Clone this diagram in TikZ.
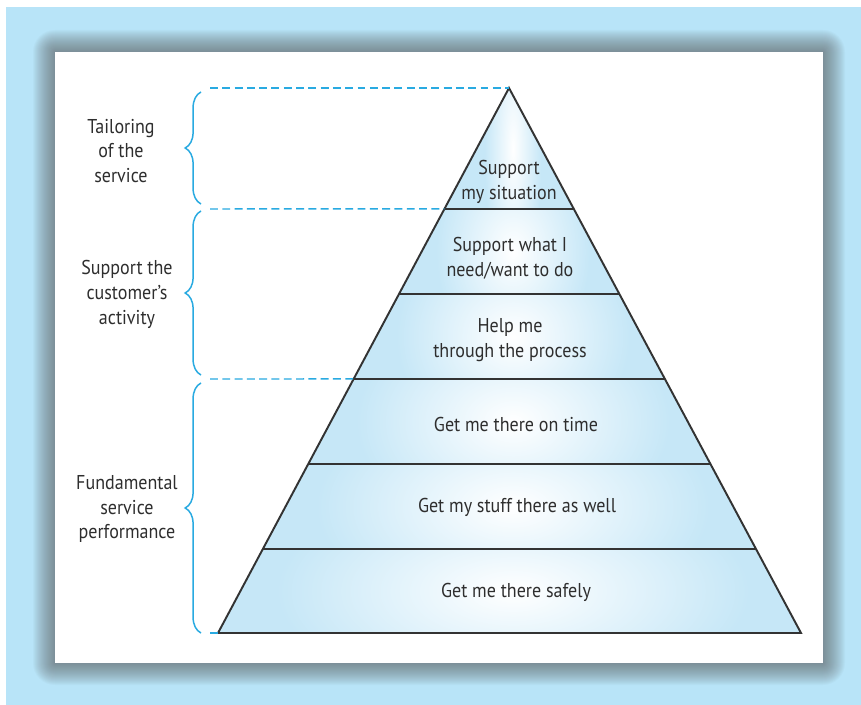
\documentclass[tikz,border=0pt]{standalone}
\usepackage{fontspec}
\setmainfont{PT Sans}[FakeStretch=0.9]
\usepackage{tikz}
\usetikzlibrary{positioning,calc,decorations.pathreplacing}
\definecolor{bgblue}{HTML}{B8E4F8}
\definecolor{pyrblue}{HTML}{C6E7F7}
\definecolor{cyanline}{HTML}{29AAE1}
\definecolor{textgray}{HTML}{2E2E2E}
\tikzset{%
  layer text/.style={
    text=textgray,
    align=center,
    inner sep=0pt,
    font=\fontsize{11.4}{14.2}\selectfont
  },
  side label/.style={
    layer text
  },
  level brace/.style={
    draw=cyanline,
    line width=0.85pt,
    decorate,
    decoration={brace, amplitude=9pt}
  },
  level line/.style={
    draw=cyanline,
    line width=0.85pt,
    dash pattern=on 4.5pt off 2.5pt
  },
  layer line/.style={
    draw=black!80,
    line width=1.1pt
  },
}

\begin{document}
\begin{tikzpicture}[x=0.02cm, y=-0.02cm]
\useasboundingbox (0,0) rectangle (861,705);
\fill[white] (0,0) rectangle (861,705);
\fill[bgblue] (6,7) rectangle (861,705);
% soft shadow round the panel
\foreach \i in {1,...,22}
    \fill[black!65, opacity=0.036, rounded corners=\i*0.02cm] (55-\i,52-\i) rectangle (823+\i,663+\i);
\fill[white] (55,52) rectangle (823,663);

% pyramid
\coordinate (apex) at (509,88);
\coordinate (bl) at (218,633);
\coordinate (br) at (801,633);
\begin{scope}
    \clip (apex) -- (bl) -- (br) -- cycle;
    \fill[pyrblue] (apex) -- (bl) -- (br) -- cycle;
    \foreach \ya/\yb in {88/209,209/294,294/379,379/464,464/549,549/633}{
        \begin{scope}
            \clip (0,\ya) rectangle (861,\yb);
            \pgfmathsetmacro\ym{0.5*(\ya+\yb)}
            \pgfmathsetmacro\hw{(\ym-88)/545*291}
            \pgfmathsetmacro\rx{0.88*\hw*0.02}
            \pgfmathsetmacro\ry{1.3*(\yb-\ya)*0.02}
            \shade[inner color=white, outer color=pyrblue] (513,\ym) ellipse ({\rx cm} and {\ry cm});
        \end{scope}
    }
\end{scope}
\foreach \y/\n in {209/1,294/2,379/3,464/4,549/5}{
    \coordinate (l\n) at ($(apex)!{(\y-88)/545}!(bl)$);
    \coordinate (r\n) at ($(apex)!{(\y-88)/545}!(br)$);
    \draw[layer line] (l\n) -- (r\n);
}
\draw[layer line, line join=miter] (apex) -- (bl) -- (br) -- cycle;

% dashed guides and braces
\coordinate (g0) at (210,88);
\coordinate (g1) at (210,209);
\coordinate (g3) at (210,379);
\coordinate (g6) at (210,633);
\draw[level line] (g0) -- (apex);
\draw[level line] (g1) -- (l1);
\draw[level line] (g3) -- (l3);
\draw[level line] (g6) -- (bl);
\draw[level brace] (201,204) -- (201,92);
\draw[level brace] (201,375) -- (201,211);
\draw[level brace] (201,633) -- (201,383);

% labels
\node[side label] (tailor) at (121,151) {Tailoring\\of the\\service};
\node[side label] (activity) at (127,294) {Support the\\customer’s\\activity};
\node[side label] (fundamental) at (127,509) {Fundamental\\service\\performance};

\node[layer text] (lvl1) at (509,182) {Support\\my situation};
\node[layer text] (lvl2) at (510,258) {Support what I\\need/want to do};
\node[layer text] (lvl3) at (510,340) {Help me\\through the process};
\node[layer text] (lvl4) at (516,424) {Get me there on time};
\node[layer text] (lvl5) at (517,507) {Get my stuff there as well};
\node[layer text] (lvl6) at (516,592) {Get me there safely};
\end{tikzpicture}
\end{document}
